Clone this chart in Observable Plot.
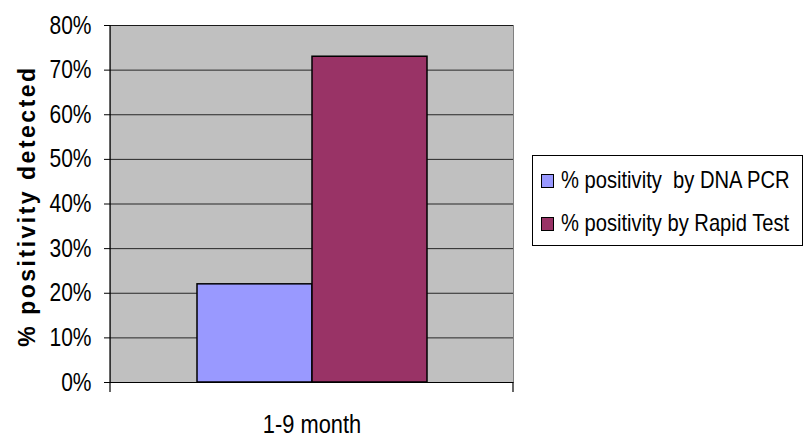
<!DOCTYPE html>
<html>
<head>
<meta charset="utf-8">
<script src="https://cdn.jsdelivr.net/npm/d3@7"></script>
<script src="https://cdn.jsdelivr.net/npm/@observablehq/plot@0.6"></script>
<style>
  html, body { margin: 0; padding: 0; background: white; }
  #wrap { position: relative; width: 807px; height: 438px; font-family: "Liberation Sans", Arial, sans-serif; }
  #legend { position: absolute; left: 532px; top: 155px; width: 271px; height: 91px; border: 1px solid #000; background: white; box-sizing: border-box; }
  .item { position: absolute; left: 8px; height: 24px; white-space: pre; }
  .sw { position: absolute; left: 0; top: 4px; width: 11px; height: 12px; border: 1px solid #000; }
  .lt { position: absolute; left: 20px; top: -4px; font-size: 24px; line-height: 28px; transform: scaleX(0.84); transform-origin: 0 50%; color: #000; }
</style>
</head>
<body>
<div id="wrap"></div>
<script>
const categories = ["1-9 month"];
const series = ["% positivity  by DNA PCR", "% positivity by Rapid Test"];
const values = [0.22, 0.73];
const colors = ["#9999FF", "#993366"];
const yTicks = [0, 0.1, 0.2, 0.3, 0.4, 0.5, 0.6, 0.7, 0.8];
const yLabel = ["% positivity detected"];

const data = series.map((s, i) => ({category: categories[0], series: s, value: values[i]}));

const plot = Plot.plot({
  width: 807,
  height: 438,
  marginLeft: 110,
  marginRight: 294,
  marginTop: 25,
  marginBottom: 56,
  style: {fontFamily: "'Liberation Sans', Arial, sans-serif", background: "white", color: "#000"},
  fx: {domain: categories, padding: 0, label: null},
  x: {domain: series, paddingInner: 0, paddingOuter: 0.745, axis: null},
  y: {domain: [0, 0.8], axis: null},
  color: {domain: series, range: colors},
  marks: [
    Plot.frame({fill: "#C0C0C0", stroke: "#808080"}),
    Plot.gridY(yTicks, {stroke: "#000", strokeOpacity: 0.8, strokeWidth: 1}),
    Plot.barY(data, {fx: "category", x: "series", y: "value", fill: "series", stroke: "#000", strokeWidth: 1.5}),
    Plot.ruleY([0], {stroke: "#000", strokeWidth: 1.2}),
    Plot.axisY(yTicks, {tickFormat: d3.format(".0%"), tickSize: 6, tickPadding: 13, fontSize: 25, label: null, stroke: "#000"}),
    Plot.axisFx({anchor: "bottom", fontSize: 26, tickSize: 0, tickPadding: 32, label: null}),
    Plot.text(yLabel, {text: d => d, frameAnchor: "left", textAnchor: "middle", dx: -83, dy: 2, rotate: -90, fontSize: 23, fontWeight: "bold", fill: "#000"})
  ]
});

const wrap = document.getElementById("wrap");
wrap.appendChild(plot);

// left axis line and band boundary ticks, from the fx scale
const fx = plot.scale("fx");
const y = plot.scale("y");
const svg = d3.select(plot);
const x0 = fx.apply(categories[0]);
const x1 = x0 + fx.bandwidth;
const y0 = y.apply(0);
const yTop = y.apply(0.8);
const g = svg.append("g").attr("stroke", "#000").attr("stroke-width", 1.2);
g.append("line").attr("x1", x0).attr("x2", x0).attr("y1", yTop).attr("y2", y0 + 10);
g.append("line").attr("x1", x1).attr("x2", x1).attr("y1", y0).attr("y2", y0 + 10);

// condensed look (Arial Narrow-like rendering)
svg.selectAll("text").each(function() {
  const t = this;
  if (t.textContent === yLabel[0]) return;
  const len = t.getComputedTextLength();
  if (len > 0) {
    t.setAttribute("textLength", len * 0.84);
    t.setAttribute("lengthAdjust", "spacingAndGlyphs");
  }
});
// spaced bold y label
svg.selectAll("text").filter(function() { return this.textContent === yLabel[0]; })
  .attr("letter-spacing", "2.5px");

// legend
const legend = document.createElement("div");
legend.id = "legend";
series.forEach((s, i) => {
  const item = document.createElement("div");
  item.className = "item";
  item.style.top = (14 + i * 43) + "px";
  const sw = document.createElement("div");
  sw.className = "sw";
  sw.style.background = colors[i];
  const lt = document.createElement("div");
  lt.className = "lt";
  lt.textContent = s;
  item.appendChild(sw);
  item.appendChild(lt);
  legend.appendChild(item);
});
wrap.appendChild(legend);
</script>
</body>
</html>
